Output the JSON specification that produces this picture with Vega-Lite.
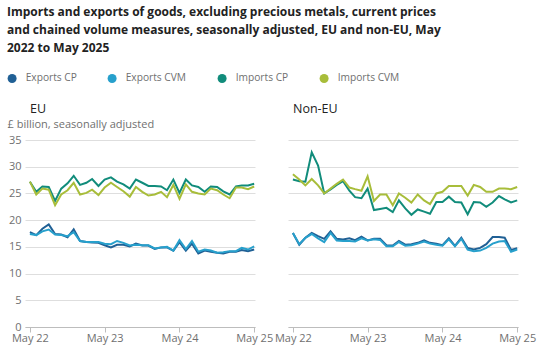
{
  "$schema": "https://vega.github.io/schema/vega-lite/v6.json",
  "background": "white",
  "padding": {"left": 7, "top": 6, "right": 10, "bottom": 8},
  "title": {
    "text": ["Imports and exports of goods, excluding precious metals, current prices", "and chained volume measures, seasonally adjusted, EU and non-EU, May", "2022 to May 2025"],
    "anchor": "start", "fontSize": 12, "fontWeight": "bold", "lineHeight": 18, "color": "#222222", "offset": 18, "font": "Open Sans"
  },
  "datasets": {
    "trade": [
      {"region": "EU", "date": "2022-05-01", "Exports CP": 17.75, "Exports CVM": 17.4, "Imports CP": 27.2, "Imports CVM": 27.2},
      {"region": "EU", "date": "2022-06-01", "Exports CP": 17.2, "Exports CVM": 17.2, "Imports CP": 25.3, "Imports CVM": 24.8},
      {"region": "EU", "date": "2022-07-01", "Exports CP": 18.4, "Exports CVM": 17.9, "Imports CP": 26.3, "Imports CVM": 25.9},
      {"region": "EU", "date": "2022-08-01", "Exports CP": 19.2, "Exports CVM": 18.25, "Imports CP": 26.2, "Imports CVM": 25.7},
      {"region": "EU", "date": "2022-09-01", "Exports CP": 17.4, "Exports CVM": 17.3, "Imports CP": 23.6, "Imports CVM": 22.8},
      {"region": "EU", "date": "2022-10-01", "Exports CP": 17.3, "Exports CVM": 17.2, "Imports CP": 25.9, "Imports CVM": 24.8},
      {"region": "EU", "date": "2022-11-01", "Exports CP": 16.8, "Exports CVM": 17.0, "Imports CP": 26.9, "Imports CVM": 25.6},
      {"region": "EU", "date": "2022-12-01", "Exports CP": 18.3, "Exports CVM": 17.75, "Imports CP": 28.3, "Imports CVM": 27.0},
      {"region": "EU", "date": "2023-01-01", "Exports CP": 16.1, "Exports CVM": 16.1, "Imports CP": 26.6, "Imports CVM": 24.8},
      {"region": "EU", "date": "2023-02-01", "Exports CP": 15.9, "Exports CVM": 15.9, "Imports CP": 27.0, "Imports CVM": 25.1},
      {"region": "EU", "date": "2023-03-01", "Exports CP": 15.8, "Exports CVM": 15.9, "Imports CP": 27.7, "Imports CVM": 25.7},
      {"region": "EU", "date": "2023-04-01", "Exports CP": 15.75, "Exports CVM": 15.9, "Imports CP": 26.4, "Imports CVM": 24.7},
      {"region": "EU", "date": "2023-05-01", "Exports CP": 15.3, "Exports CVM": 15.6, "Imports CP": 27.6, "Imports CVM": 26.1},
      {"region": "EU", "date": "2023-06-01", "Exports CP": 14.9, "Exports CVM": 15.5, "Imports CP": 28.0, "Imports CVM": 27.0},
      {"region": "EU", "date": "2023-07-01", "Exports CP": 15.4, "Exports CVM": 16.1, "Imports CP": 27.2, "Imports CVM": 26.2},
      {"region": "EU", "date": "2023-08-01", "Exports CP": 15.4, "Exports CVM": 15.75, "Imports CP": 26.7, "Imports CVM": 25.4},
      {"region": "EU", "date": "2023-09-01", "Exports CP": 15.1, "Exports CVM": 15.25, "Imports CP": 25.9, "Imports CVM": 24.4},
      {"region": "EU", "date": "2023-10-01", "Exports CP": 15.6, "Exports CVM": 15.4, "Imports CP": 27.6, "Imports CVM": 26.2},
      {"region": "EU", "date": "2023-11-01", "Exports CP": 15.25, "Exports CVM": 15.3, "Imports CP": 27.0, "Imports CVM": 25.3},
      {"region": "EU", "date": "2023-12-01", "Exports CP": 15.25, "Exports CVM": 15.3, "Imports CP": 26.4, "Imports CVM": 24.6},
      {"region": "EU", "date": "2024-01-01", "Exports CP": 14.6, "Exports CVM": 14.7, "Imports CP": 26.4, "Imports CVM": 24.8},
      {"region": "EU", "date": "2024-02-01", "Exports CP": 14.9, "Exports CVM": 14.9, "Imports CP": 26.3, "Imports CVM": 25.3},
      {"region": "EU", "date": "2024-03-01", "Exports CP": 14.9, "Exports CVM": 15.0, "Imports CP": 25.6, "Imports CVM": 24.3},
      {"region": "EU", "date": "2024-04-01", "Exports CP": 14.3, "Exports CVM": 14.3, "Imports CP": 27.6, "Imports CVM": 26.6},
      {"region": "EU", "date": "2024-05-01", "Exports CP": 15.9, "Exports CVM": 16.25, "Imports CP": 25.1, "Imports CVM": 24.0},
      {"region": "EU", "date": "2024-06-01", "Exports CP": 14.3, "Exports CVM": 14.6, "Imports CP": 27.6, "Imports CVM": 26.7},
      {"region": "EU", "date": "2024-07-01", "Exports CP": 15.6, "Exports CVM": 16.1, "Imports CP": 26.5, "Imports CVM": 25.3},
      {"region": "EU", "date": "2024-08-01", "Exports CP": 13.75, "Exports CVM": 14.1, "Imports CP": 26.2, "Imports CVM": 25.0},
      {"region": "EU", "date": "2024-09-01", "Exports CP": 14.3, "Exports CVM": 14.5, "Imports CP": 25.3, "Imports CVM": 24.8},
      {"region": "EU", "date": "2024-10-01", "Exports CP": 14.1, "Exports CVM": 14.3, "Imports CP": 26.3, "Imports CVM": 25.9},
      {"region": "EU", "date": "2024-11-01", "Exports CP": 13.9, "Exports CVM": 13.9, "Imports CP": 26.2, "Imports CVM": 25.6},
      {"region": "EU", "date": "2024-12-01", "Exports CP": 13.75, "Exports CVM": 14.0, "Imports CP": 25.4, "Imports CVM": 24.8},
      {"region": "EU", "date": "2025-01-01", "Exports CP": 14.1, "Exports CVM": 14.2, "Imports CP": 24.8, "Imports CVM": 24.1},
      {"region": "EU", "date": "2025-02-01", "Exports CP": 14.1, "Exports CVM": 14.2, "Imports CP": 26.3, "Imports CVM": 26.1},
      {"region": "EU", "date": "2025-03-01", "Exports CP": 14.4, "Exports CVM": 14.8, "Imports CP": 26.5, "Imports CVM": 26.1},
      {"region": "EU", "date": "2025-04-01", "Exports CP": 14.2, "Exports CVM": 14.5, "Imports CP": 26.5, "Imports CVM": 25.8},
      {"region": "EU", "date": "2025-05-01", "Exports CP": 14.5, "Exports CVM": 15.1, "Imports CP": 26.8, "Imports CVM": 26.3},
      {"region": "Non-EU", "date": "2022-05-01", "Exports CP": 17.6, "Exports CVM": 17.6, "Imports CP": 27.6, "Imports CVM": 28.6},
      {"region": "Non-EU", "date": "2022-06-01", "Exports CP": 15.4, "Exports CVM": 15.5, "Imports CP": 27.3, "Imports CVM": 27.6},
      {"region": "Non-EU", "date": "2022-07-01", "Exports CP": 16.7, "Exports CVM": 16.7, "Imports CP": 27.2, "Imports CVM": 26.5},
      {"region": "Non-EU", "date": "2022-08-01", "Exports CP": 17.6, "Exports CVM": 17.4, "Imports CP": 32.7, "Imports CVM": 27.7},
      {"region": "Non-EU", "date": "2022-09-01", "Exports CP": 17.0, "Exports CVM": 16.6, "Imports CP": 30.2, "Imports CVM": 26.5},
      {"region": "Non-EU", "date": "2022-10-01", "Exports CP": 16.5, "Exports CVM": 15.9, "Imports CP": 25.0, "Imports CVM": 25.0},
      {"region": "Non-EU", "date": "2022-11-01", "Exports CP": 17.9, "Exports CVM": 17.6, "Imports CP": 25.75, "Imports CVM": 25.9},
      {"region": "Non-EU", "date": "2022-12-01", "Exports CP": 16.5, "Exports CVM": 16.2, "Imports CP": 26.6, "Imports CVM": 26.8},
      {"region": "Non-EU", "date": "2023-01-01", "Exports CP": 16.4, "Exports CVM": 16.1, "Imports CP": 27.3, "Imports CVM": 27.6},
      {"region": "Non-EU", "date": "2023-02-01", "Exports CP": 16.6, "Exports CVM": 16.1, "Imports CP": 25.5, "Imports CVM": 26.1},
      {"region": "Non-EU", "date": "2023-03-01", "Exports CP": 16.25, "Exports CVM": 16.0, "Imports CP": 24.3, "Imports CVM": 25.8},
      {"region": "Non-EU", "date": "2023-04-01", "Exports CP": 16.9, "Exports CVM": 16.6, "Imports CP": 24.1, "Imports CVM": 25.5},
      {"region": "Non-EU", "date": "2023-05-01", "Exports CP": 16.2, "Exports CVM": 16.2, "Imports CP": 25.9, "Imports CVM": 28.2},
      {"region": "Non-EU", "date": "2023-06-01", "Exports CP": 16.5, "Exports CVM": 16.4, "Imports CP": 21.9, "Imports CVM": 23.6},
      {"region": "Non-EU", "date": "2023-07-01", "Exports CP": 16.5, "Exports CVM": 16.3, "Imports CP": 22.1, "Imports CVM": 24.8},
      {"region": "Non-EU", "date": "2023-08-01", "Exports CP": 15.3, "Exports CVM": 15.1, "Imports CP": 22.3, "Imports CVM": 24.8},
      {"region": "Non-EU", "date": "2023-09-01", "Exports CP": 15.25, "Exports CVM": 15.1, "Imports CP": 21.5, "Imports CVM": 22.8},
      {"region": "Non-EU", "date": "2023-10-01", "Exports CP": 16.1, "Exports CVM": 15.9, "Imports CP": 23.7, "Imports CVM": 25.0},
      {"region": "Non-EU", "date": "2023-11-01", "Exports CP": 15.4, "Exports CVM": 15.2, "Imports CP": 22.2, "Imports CVM": 24.2},
      {"region": "Non-EU", "date": "2023-12-01", "Exports CP": 15.5, "Exports CVM": 15.3, "Imports CP": 21.0, "Imports CVM": 23.3},
      {"region": "Non-EU", "date": "2024-01-01", "Exports CP": 15.75, "Exports CVM": 15.6, "Imports CP": 22.0, "Imports CVM": 24.8},
      {"region": "Non-EU", "date": "2024-02-01", "Exports CP": 16.2, "Exports CVM": 16.0, "Imports CP": 21.6, "Imports CVM": 23.7},
      {"region": "Non-EU", "date": "2024-03-01", "Exports CP": 15.75, "Exports CVM": 15.6, "Imports CP": 21.2, "Imports CVM": 23.0},
      {"region": "Non-EU", "date": "2024-04-01", "Exports CP": 15.6, "Exports CVM": 15.4, "Imports CP": 23.4, "Imports CVM": 25.0},
      {"region": "Non-EU", "date": "2024-05-01", "Exports CP": 15.3, "Exports CVM": 15.2, "Imports CP": 23.4, "Imports CVM": 25.3},
      {"region": "Non-EU", "date": "2024-06-01", "Exports CP": 16.6, "Exports CVM": 16.4, "Imports CP": 24.4, "Imports CVM": 26.4},
      {"region": "Non-EU", "date": "2024-07-01", "Exports CP": 15.2, "Exports CVM": 15.1, "Imports CP": 23.4, "Imports CVM": 26.4},
      {"region": "Non-EU", "date": "2024-08-01", "Exports CP": 16.7, "Exports CVM": 16.5, "Imports CP": 23.3, "Imports CVM": 26.4},
      {"region": "Non-EU", "date": "2024-09-01", "Exports CP": 14.8, "Exports CVM": 14.5, "Imports CP": 21.1, "Imports CVM": 24.6},
      {"region": "Non-EU", "date": "2024-10-01", "Exports CP": 14.5, "Exports CVM": 14.2, "Imports CP": 23.4, "Imports CVM": 26.6},
      {"region": "Non-EU", "date": "2024-11-01", "Exports CP": 14.8, "Exports CVM": 14.3, "Imports CP": 23.3, "Imports CVM": 26.2},
      {"region": "Non-EU", "date": "2024-12-01", "Exports CP": 15.5, "Exports CVM": 14.8, "Imports CP": 22.5, "Imports CVM": 25.3},
      {"region": "Non-EU", "date": "2025-01-01", "Exports CP": 16.85, "Exports CVM": 15.6, "Imports CP": 23.3, "Imports CVM": 25.3},
      {"region": "Non-EU", "date": "2025-02-01", "Exports CP": 16.85, "Exports CVM": 16.0, "Imports CP": 24.5, "Imports CVM": 25.9},
      {"region": "Non-EU", "date": "2025-03-01", "Exports CP": 16.7, "Exports CVM": 16.1, "Imports CP": 23.9, "Imports CVM": 25.9},
      {"region": "Non-EU", "date": "2025-04-01", "Exports CP": 14.4, "Exports CVM": 14.1, "Imports CP": 23.3, "Imports CVM": 25.8},
      {"region": "Non-EU", "date": "2025-05-01", "Exports CP": 14.75, "Exports CVM": 14.5, "Imports CP": 23.7, "Imports CVM": 26.2}
    ]
  },
  "data": {"name": "trade"},
  "spacing": 33,
  "bounds": "flush",
  "resolve": {"scale": {"color": "shared"}, "legend": {"color": "shared"}},
  "hconcat": [
    {
      "width": 230,
      "height": 187,
      "title": {"text": "EU", "anchor": "start", "frame": "group", "dx": 5, "fontSize": 12.5, "fontWeight": "normal", "color": "#222222", "offset": 3},
      "transform": [
        {"filter": "datum.region === 'EU'"},
        {"fold": ["Exports CP", "Exports CVM", "Imports CP", "Imports CVM"], "as": ["series", "value"]}
      ],
      "mark": {"type": "line", "strokeWidth": 2, "interpolate": "linear"},
      "encoding": {
        "x": {
          "field": "date", "type": "temporal", "timeUnit": "utcyearmonth",
          "scale": {"domain": [{"year": 2022, "month": 4, "date": 7, "utc": true}, {"year": 2025, "month": 5, "date": 5, "utc": true}]},
          "axis": {
            "title": null, "grid": false, "format": "%b %y", "labelFlush": false,
            "values": [{"year": 2022, "month": 5, "date": 1, "utc": true}, {"year": 2023, "month": 5, "date": 1, "utc": true}, {"year": 2024, "month": 5, "date": 1, "utc": true}, {"year": 2025, "month": 5, "date": 1, "utc": true}]
          }
        },
        "y": {
          "field": "value", "type": "quantitative",
          "scale": {"domain": [0, 35], "nice": false, "zero": true},
          "axis": {
            "values": [0, 5, 10, 15, 20, 25, 30, 35],
            "title": "£ billion, seasonally adjusted",
            "titleAngle": 0, "titleAlign": "left", "titleBaseline": "middle",
            "titleX": -18, "titleY": -16,
            "titleFontWeight": "normal", "titleFontSize": 11, "titleColor": "#707070"
          }
        },
        "color": {
          "field": "series", "type": "nominal",
          "scale": {"domain": ["Exports CP", "Exports CVM", "Imports CP", "Imports CVM"], "range": ["#206095", "#27a0cc", "#118c7b", "#a8bd3a"]},
          "legend": {
            "title": null,
            "encode": {"symbols": {"update": {"fill": {"scale": "color", "field": "value"}, "strokeWidth": {"value": 0}, "opacity": {"value": 1}}}}
          }
        }
      }
    },
    {
      "width": 230,
      "height": 187,
      "title": {"text": "Non-EU", "anchor": "start", "frame": "group", "dx": 5, "fontSize": 12.5, "fontWeight": "normal", "color": "#222222", "offset": 3},
      "transform": [
        {"filter": "datum.region === 'Non-EU'"},
        {"fold": ["Exports CP", "Exports CVM", "Imports CP", "Imports CVM"], "as": ["series", "value"]}
      ],
      "mark": {"type": "line", "strokeWidth": 2, "interpolate": "linear"},
      "encoding": {
        "x": {
          "field": "date", "type": "temporal", "timeUnit": "utcyearmonth",
          "scale": {"domain": [{"year": 2022, "month": 4, "date": 7, "utc": true}, {"year": 2025, "month": 5, "date": 5, "utc": true}]},
          "axis": {
            "title": null, "grid": false, "format": "%b %y", "labelFlush": false,
            "values": [{"year": 2022, "month": 5, "date": 1, "utc": true}, {"year": 2023, "month": 5, "date": 1, "utc": true}, {"year": 2024, "month": 5, "date": 1, "utc": true}, {"year": 2025, "month": 5, "date": 1, "utc": true}]
          }
        },
        "y": {
          "field": "value", "type": "quantitative",
          "scale": {"domain": [0, 35], "nice": false, "zero": true},
          "axis": {
            "values": [0, 5, 10, 15, 20, 25, 30, 35],
            "labels": false,
            "title": "£ billion, seasonally adjusted",
            "titleOpacity": 0,
            "titleAngle": 0, "titleAlign": "left", "titleBaseline": "middle",
            "titleX": -18, "titleY": -16,
            "titleFontWeight": "normal", "titleFontSize": 11
          }
        },
        "color": {
          "field": "series", "type": "nominal",
          "scale": {"domain": ["Exports CP", "Exports CVM", "Imports CP", "Imports CVM"], "range": ["#206095", "#27a0cc", "#118c7b", "#a8bd3a"]},
          "legend": {
            "title": null,
            "encode": {"symbols": {"update": {"fill": {"scale": "color", "field": "value"}, "strokeWidth": {"value": 0}, "opacity": {"value": 1}}}}
          }
        }
      }
    }
  ],
  "config": {
    "font": "Open Sans",
    "view": {"stroke": null},
    "axis": {
      "labelFont": "Open Sans", "labelFontSize": 11, "labelColor": "#707070",
      "gridColor": "#dedede", "gridWidth": 1,
      "domainColor": "#bdbdbd", "tickColor": "#bdbdbd", "tickSize": 5
    },
    "axisY": {"domain": false, "ticks": false, "labelPadding": 4, "grid": true},
    "axisX": {"domain": true, "ticks": true, "labelPadding": 0},
    "legend": {
      "orient": "none", "legendX": -18, "legendY": -67, "direction": "horizontal",
      "symbolType": "circle", "symbolSize": 81,
      "labelFont": "Open Sans", "labelFontSize": 10.2, "labelColor": "#707070",
      "labelOffset": 8.5, "columnPadding": 30, "padding": 0
    }
  }
}
